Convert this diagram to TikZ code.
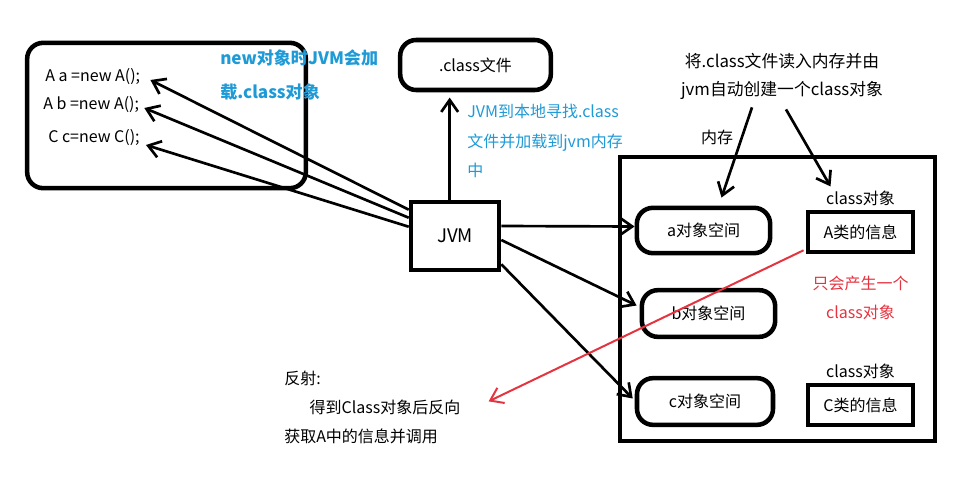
\documentclass[tikz,border=0pt]{standalone}
\usepackage{fontspec}
\setmainfont{Noto Sans CJK SC}
\usepackage{xcolor}
\usepackage{tikz}
\usetikzlibrary{positioning,arrows.meta,calc}
\definecolor{noteBlue}{HTML}{1E9AD6}
\definecolor{noteRed}{HTML}{E5333F}
\tikzset{
  roundBox/.style={draw, line width=3.4pt, rounded corners=12pt, font=\fontsize{12}{14}\selectfont},
  sharpBox/.style={draw, line width=3.4pt, font=\fontsize{12}{14}\selectfont},
  arrow/.style={-{Straight Barb[angle=70:11pt]}, line width=2pt},
  redArrow/.style={-{Straight Barb[angle=70:11pt]}, line width=1.5pt, draw=noteRed},
  txt/.style={inner sep=0pt, font=\fontsize{12}{14}\selectfont},
  blueNote/.style={txt, text=noteBlue, align=left, font=\fontsize{12}{22}\selectfont}
}
\begin{document}
\begin{tikzpicture}[x=0.75pt, y=-0.75pt]
  \useasboundingbox (0,0) rectangle (960,499);

  % code block
  \node[roundBox, minimum width=209pt, minimum height=109pt] (code) at (166.5,115.5) {};
  \node[txt, anchor=west] (codeA) at (45,77) {A a =new A();};
  \node[txt, anchor=west] (codeB) at (43,105) {A b =new A();};
  \node[txt, anchor=west] (codeC) at (48,138) {C c=new C();};
  \node[blueNote, anchor=north west, font=\bfseries\fontsize{12.8}{25}\selectfont] (newNote) at (220,50) {new对象时JVM会加\\载.class对象};

  % class file and jvm
  \node[roundBox, minimum width=113pt, minimum height=37.5pt] (classfile) at (475.5,65) {.class文件};
  \node[sharpBox, minimum width=66pt, minimum height=51pt, font=\fontsize{14}{16}\selectfont] (jvm) at (455,236) {JVM};
  \node[blueNote, anchor=north west] (loadNote) at (467,104) {JVM到本地寻找.class\\文件并加载到jvm内存\\中};

  % memory
  \node[sharpBox, minimum width=236pt, minimum height=213pt] (mem) at (777.5,299) {};
  \node[txt] (memLabel) at (717,137) {内存};
  \node[txt, align=center, font=\fontsize{12.6}{21}\selectfont] (memNote) at (782,76) {将.class文件读入内存并由\\jvm自动创建一个class对象};
  \node[roundBox, minimum width=100pt, minimum height=34pt] (aobj) at (703.5,230.5) {a对象空间};
  \node[roundBox, minimum width=100pt, minimum height=35pt] (bobj) at (708.5,313.5) {b对象空间};
  \node[roundBox, minimum width=102pt, minimum height=35pt] (cobj) at (705,401.5) {c对象空间};
  \node[sharpBox, minimum width=79pt, minimum height=30pt, inner sep=1pt] (ainfo) at (860.5,232) {A类的信息};
  \node[sharpBox, minimum width=79pt, minimum height=30pt, inner sep=1pt] (cinfo) at (860.5,405) {C类的信息};
  \node[txt, above=3pt of ainfo] (aclass) {class对象};
  \node[txt, above=3pt of cinfo] (cclass) {class对象};
  \node[txt, below=16pt of ainfo, text=noteRed, align=center, font=\fontsize{12}{22}\selectfont] (onlyOne) {只会产生一个\\class对象};

  % reflection
  \node[txt, anchor=north west, align=left, font=\fontsize{12}{21.5}\selectfont] (reflect) at (284,371) {反射:\\\hspace*{19pt}得到Class对象后反向\\获取A中的信息并调用};

  \draw[arrow] ($(jvm.north west)+(0,10)$) -- ($(codeA.east)+(10,3)$);
  \draw[arrow] ($(jvm.north west)+(0,18)$) -- ($(codeB.east)+(5,3)$);
  \draw[arrow] ($(jvm.north west)+(0,27)$) -- ($(codeC.east)+(6,7)$);
  \draw[arrow] ([xshift=-4pt]jvm.north) -- ([xshift=-4pt, yshift=-4pt]jvm.north |- classfile.south);
  \draw[arrow] ($(jvm.east)+(0,-10)$) -- ($(aobj.west)+(0,-4)$);
  \draw[arrow] ($(jvm.east)+(0,4)$) -- ($(bobj.west)+(-3,-8)$);
  \draw[arrow] ($(jvm.south east)+(0,-8)$) -- ($(cobj.west)+(-2,-3)$);
  \draw[arrow] ($(memNote.south)+(-30,8)$) -- ($(aobj.north)+(18,-8)$);
  \draw[arrow] ($(memNote.south)+(4,10)$) -- ($(aclass.north)+(-30,-4)$);
  \draw[redArrow] ($(ainfo.south west)+(-2,-4)$) -- ($(reflect.east)+(28,-6)$);
\end{tikzpicture}
\end{document}
